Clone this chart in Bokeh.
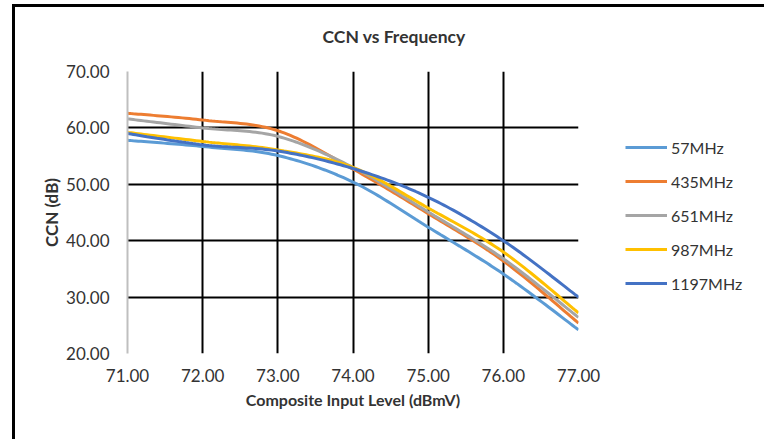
import numpy as np
from bokeh.plotting import figure
from bokeh.models import Legend, LegendItem, FixedTicker, NumeralTickFormatter
from bokeh.embed import file_html
from bokeh.resources import INLINE

# ---- data ----
input_level = [71, 72, 73, 74, 75, 76, 77]
ccn_57 = [57.8, 56.7, 55.1, 50.4, 42.4, 34.1, 24.2]
ccn_435 = [62.6, 61.4, 59.5, 52.7, 44.8, 36.4, 25.4]
ccn_651 = [61.6, 60.0, 58.5, 53.0, 45.1, 36.8, 26.4]
ccn_987 = [59.2, 57.6, 56.1, 53.0, 45.8, 38.0, 27.2]
ccn_1197 = [59.0, 57.0, 55.9, 52.8, 47.7, 40.0, 30.0]
series_names = ["57MHz", "435MHz", "651MHz", "987MHz", "1197MHz"]
x_ticks = [71, 72, 73, 74, 75, 76, 77]
y_ticks = [20, 30, 40, 50, 60, 70]

colors = ["#5B9BD5", "#ED7D31", "#A5A5A5", "#FFC000", "#4472C4"]
FONT = "Lato"
TXT = "#333333"


def smooth(xs, ys, n=24):
    """Catmull-Rom curve through the points (Excel-style smoothed line)."""
    xs = np.asarray(xs, float)
    ys = np.asarray(ys, float)
    px = np.concatenate([[xs[0]], xs, [xs[-1]]])
    py = np.concatenate([[ys[0]], ys, [ys[-1]]])
    outx, outy = [], []
    t = np.linspace(0, 1, n, endpoint=False)
    for i in range(1, len(px) - 2):
        p0x, p1x, p2x, p3x = px[i - 1], px[i], px[i + 1], px[i + 2]
        p0y, p1y, p2y, p3y = py[i - 1], py[i], py[i + 1], py[i + 2]
        c1x = p1x + (p2x - p0x) / 6.0
        c1y = p1y + (p2y - p0y) / 6.0
        c2x = p2x - (p3x - p1x) / 6.0
        c2y = p2y - (p3y - p1y) / 6.0
        bx = (1 - t) ** 3 * p1x + 3 * (1 - t) ** 2 * t * c1x + 3 * (1 - t) * t ** 2 * c2x + t ** 3 * p2x
        by = (1 - t) ** 3 * p1y + 3 * (1 - t) ** 2 * t * c1y + 3 * (1 - t) * t ** 2 * c2y + t ** 3 * p2y
        outx.extend(bx)
        outy.extend(by)
    outx.append(xs[-1])
    outy.append(ys[-1])
    return outx, outy


p = figure(frame_width=451, frame_height=282, x_range=(71, 77), y_range=(20, 70),
           output_backend="svg", toolbar_location=None,
           min_border_left=127, min_border_right=186, min_border_top=71, min_border_bottom=86)
# chart-area border (left and top edges only; the rest lies outside the picture)
p.styles = {"background": "linear-gradient(#000, #000) 12px 4px / 760px 3px no-repeat, "
                          "linear-gradient(#000, #000) 12px 4px / 3px 440px no-repeat"}
p.outline_line_color = None
p.background_fill_color = "white"
p.border_fill_alpha = 0

# title
p.title.text = "CCN vs Frequency"
p.title.align = "left"
p.title.vertical_align = "middle"
p.title.offset = 195
p.title.standoff = 48
p.title.text_font = FONT
p.title.text_font_size = "17.5px"
p.title.text_font_style = "bold"
p.title.text_color = TXT

# axes
p.xaxis.ticker = FixedTicker(ticks=x_ticks)
p.yaxis.ticker = FixedTicker(ticks=y_ticks)
p.xaxis.formatter = NumeralTickFormatter(format="0.00")
p.yaxis.formatter = NumeralTickFormatter(format="0.00")
for ax in (p.xaxis[0], p.yaxis[0]):
    ax.major_tick_line_color = None
    ax.minor_tick_line_color = None
    ax.major_tick_out = 0
    ax.major_tick_in = 0
    ax.minor_tick_out = 0
    ax.minor_tick_in = 0
    ax.major_label_text_font = FONT
    ax.major_label_text_font_size = "17px"
    ax.major_label_text_color = TXT
    ax.axis_label_text_font = FONT
    ax.axis_label_text_font_style = "bold"
    ax.axis_label_text_color = TXT
p.xaxis.axis_label = "Composite Input Level (dBmV)"
p.yaxis.axis_label = "CCN (dB)"
p.xaxis.axis_label_text_font_size = "16px"
p.yaxis.axis_label_text_font_size = "17px"
p.xaxis.axis_line_color = None
p.yaxis.axis_line_color = "#BFBFBF"
p.yaxis.axis_line_width = 2
p.xaxis.major_label_standoff = 15
p.xaxis.axis_label_standoff = 5
p.yaxis.major_label_standoff = 18
p.yaxis.axis_label_standoff = 1

# grids
p.xgrid.ticker = FixedTicker(ticks=x_ticks[1:])
p.ygrid.ticker = FixedTicker(ticks=y_ticks)
p.xgrid.grid_line_color = "black"
p.ygrid.grid_line_color = "black"
p.xgrid.grid_line_width = 2
p.ygrid.grid_line_width = 2

# series
items = []
for name, ys, c in zip(series_names, [ccn_57, ccn_435, ccn_651, ccn_987, ccn_1197], colors):
    sx, sy = smooth(input_level, ys)
    r = p.line(sx, sy, line_color=c, line_width=3)
    items.append(LegendItem(label=name, renderers=[r]))

legend = Legend(items=items, location=(47, 60))
legend.border_line_color = None
legend.background_fill_alpha = 0
legend.padding = 0
legend.margin = 0
legend.spacing = 14
legend.glyph_width = 42
legend.glyph_height = 20
legend.label_height = 20
legend.label_standoff = 4
legend.label_text_font = FONT
legend.label_text_font_size = "16px"
legend.label_text_color = TXT
p.add_layout(legend, "right")

open("out.html", "w").write(file_html(p, INLINE))
